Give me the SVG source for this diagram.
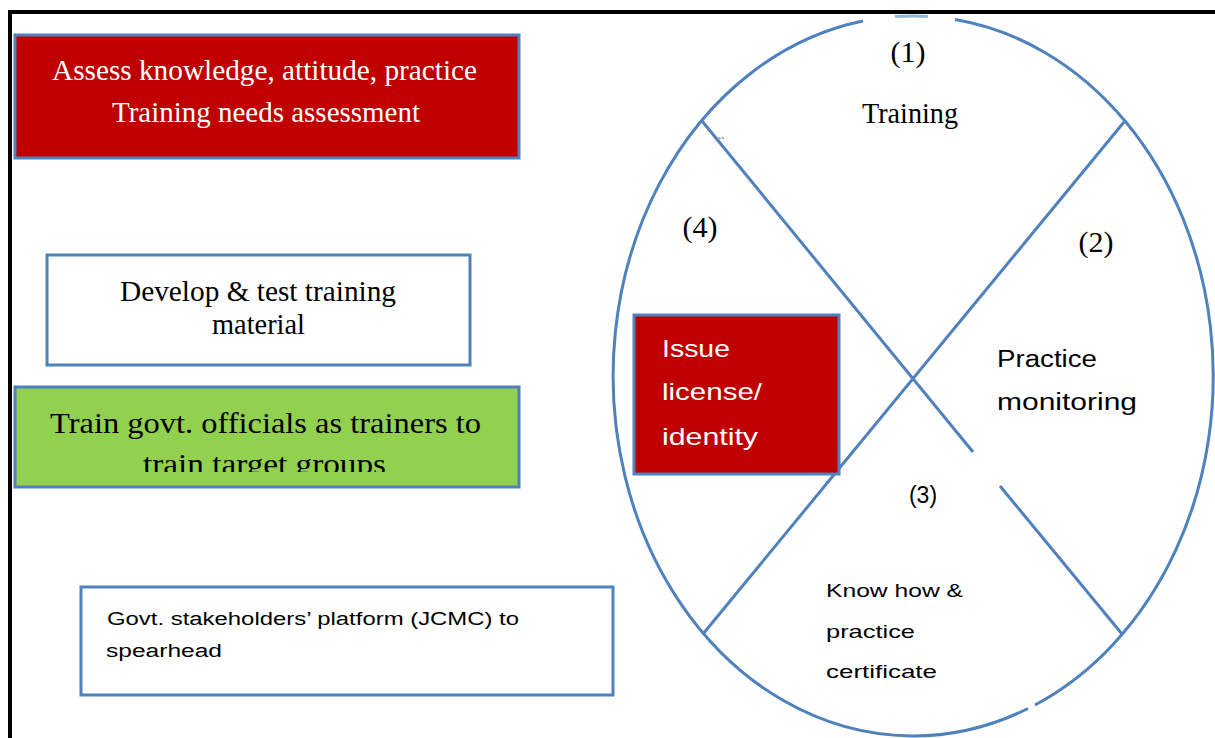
<svg xmlns="http://www.w3.org/2000/svg" width="1215" height="738" viewBox="0 0 1215 738">
  <style>
    .box { stroke: #4F81BD; stroke-width: 3; }
    .red { fill: #C00000; }
    .white { fill: #FFFFFF; }
    .green { fill: #92D050; }
    .serif { font-family: "Liberation Serif", "Times New Roman", serif; font-size: 30px; }
    .sans { font-family: "Liberation Sans", Arial, sans-serif; }
    .wt { fill: #FFFFFF; }
    .bk { fill: #000000; }
    .ring { fill: none; stroke: #4F81BD; stroke-width: 3; stroke-linecap: butt; }
  </style>
  <defs>
    <clipPath id="clip-green">
      <rect x="15" y="387" width="505" height="85"/>
    </clipPath>
  </defs>

  <rect width="1215" height="738" fill="#FFFFFF"/>

  <!-- outer frame: top and left edges only -->
  <g id="frame">
    <line x1="8" y1="12" x2="1215" y2="12" stroke="#000" stroke-width="4"/>
    <line x1="10" y1="10" x2="10" y2="738" stroke="#000" stroke-width="4"/>
  </g>

  <!-- cycle ring and the two dividing diagonals -->
  <g id="connectors">
    <path class="ring" d="M 955 19.5 A 300 360 0 0 1 1035 705"/>
    <path class="ring" d="M 1028 708.5 A 300 360 0 1 1 863 21"/>
    <path class="ring" d="M 895 16.6 A 300 360 0 0 1 928 16.4" stroke-width="2" opacity="0.6"/>
    <line class="ring" x1="702" y1="121" x2="973" y2="452"/>
    <line class="ring" x1="1000" y1="486" x2="1122" y2="634"/>
    <line class="ring" x1="1124" y1="122" x2="703" y2="634"/>
  </g>

  <g id="assess">
    <rect class="box red" x="15" y="35" width="504" height="123"/>
    <text class="serif wt" x="52" y="80" textLength="425" lengthAdjust="spacingAndGlyphs">Assess knowledge, attitude, practice</text>
    <text class="serif wt" x="112" y="122" textLength="308" lengthAdjust="spacingAndGlyphs">Training needs assessment</text>
  </g>

  <g id="develop">
    <rect class="box white" x="47" y="255" width="423" height="110"/>
    <text class="serif bk" x="120" y="301" textLength="276" lengthAdjust="spacingAndGlyphs">Develop &amp; test training</text>
    <text class="serif bk" x="212" y="334" textLength="93" lengthAdjust="spacingAndGlyphs">material</text>
  </g>

  <g id="train-officials">
    <rect class="box green" x="15" y="387" width="504" height="100"/>
    <text class="serif bk" x="50" y="433" textLength="431" lengthAdjust="spacingAndGlyphs">Train govt. officials  as trainers to</text>
    <g clip-path="url(#clip-green)">
      <text class="serif bk" x="143" y="474" textLength="243" lengthAdjust="spacingAndGlyphs">train target groups</text>
    </g>
  </g>

  <g id="platform">
    <rect class="box white" x="81" y="587" width="532" height="108"/>
    <text class="sans bk" x="107" y="625" font-size="18" textLength="412" lengthAdjust="spacingAndGlyphs">Govt. stakeholders’ platform (JCMC) to</text>
    <text class="sans bk" x="106" y="657" font-size="18" textLength="116" lengthAdjust="spacingAndGlyphs">spearhead</text>
  </g>

  <g id="stage-training">
    <text class="serif bk" x="908" y="62" text-anchor="middle" font-size="27">(1)</text>
    <text class="serif bk" x="862" y="123" textLength="96" lengthAdjust="spacingAndGlyphs">Training</text>
    <text class="sans bk" x="718" y="146" font-size="10">``</text>
  </g>

  <g id="stage-monitoring">
    <text class="serif bk" x="1096" y="252" text-anchor="middle" font-size="27">(2)</text>
    <text class="sans bk" x="997" y="367" font-size="23" textLength="100" lengthAdjust="spacingAndGlyphs">Practice</text>
    <text class="sans bk" x="997" y="410" font-size="23" textLength="140" lengthAdjust="spacingAndGlyphs">monitoring</text>
  </g>

  <g id="stage-certificate">
    <text class="sans bk" x="923" y="503" text-anchor="middle" font-size="23">(3)</text>
    <text class="sans bk" x="826" y="597" font-size="19" textLength="137" lengthAdjust="spacingAndGlyphs">Know how &amp;</text>
    <text class="sans bk" x="826" y="638" font-size="19" textLength="89" lengthAdjust="spacingAndGlyphs">practice</text>
    <text class="sans bk" x="826" y="678" font-size="19" textLength="111" lengthAdjust="spacingAndGlyphs">certificate</text>
  </g>

  <g id="stage-license">
    <text class="serif bk" x="700" y="237" text-anchor="middle" font-size="25">(4)</text>
    <rect class="box red" x="634" y="315" width="205" height="159"/>
    <text class="sans wt" x="662" y="357" font-size="24" textLength="68" lengthAdjust="spacingAndGlyphs">Issue</text>
    <text class="sans wt" x="662" y="400" font-size="24" textLength="100" lengthAdjust="spacingAndGlyphs">license/</text>
    <text class="sans wt" x="662" y="445" font-size="24" textLength="96" lengthAdjust="spacingAndGlyphs">identity</text>
  </g>
</svg>
